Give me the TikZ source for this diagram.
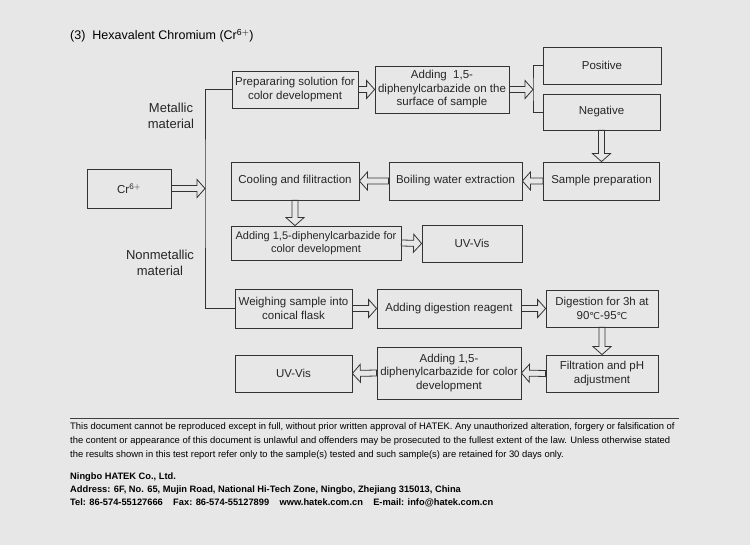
\documentclass[tikz,border=0pt]{standalone}
\usepackage{fontspec}
\setmainfont{Liberation Sans}
\newfontfamily\symfont{DejaVu Sans}
\usetikzlibrary{calc}
\definecolor{bgc}{HTML}{E7E7E7}
\definecolor{lnc}{HTML}{333333}
\newcommand\degC{{\symfont\fontsize{9.5}{11}\selectfont ℃}}
\newcommand\harrow[2]{%
  \coordinate (hH) at ($(#2)!8pt!(#1)$);
  \draw[harrowline] ($(#1)!3pt!90:(#2)$) -- ($(hH)!3pt!90:(#2)$) -- ($(hH)!9pt!90:(#2)$) -- (#2)
    -- ($(hH)!9pt!-90:(#2)$) -- ($(hH)!3pt!-90:(#2)$) -- ($(#1)!3pt!-90:(#2)$) -- cycle;}
\tikzset{
  box/.style={draw=lnc, line width=0.8pt, inner sep=0pt, align=center,
    font=\fontsize{11.5}{13.5}\selectfont, text=black!85},
  harrowline/.style={draw=lnc, line width=0.8pt, fill=bgc, line join=miter},
  conn/.style={draw=lnc, line width=0.8pt},
  lbl/.style={align=center, font=\fontsize{13}{16}\selectfont, text=black!85},
  foot/.style={anchor=west, inner sep=0pt, font=\fontsize{9.4}{10}\selectfont},
  footb/.style={anchor=west, inner sep=0pt, font=\fontsize{9.3}{10}\selectfont\bfseries}
}
\begin{document}
\begin{tikzpicture}[x=1pt,y=-1pt]
\fill[bgc] (0,0) rectangle (750,545);
\useasboundingbox (0,0) rectangle (750,545);

\node[anchor=west, inner sep=0pt, font=\fontsize{12.5}{14}\selectfont] (title) at (70,36) {(3)\ \ Hexavalent Chromium (Cr$^{\mathrm{6+}}$)};

\node[box, minimum width=84pt, minimum height=39pt] (cr) at (129,188.5) {Cr$^{\mathrm{6+}}$};
\node[box, minimum width=126pt, minimum height=37pt] (prep) at (295,89.5) {Prepararing solution for\\color development};
\node[box, minimum width=134pt, minimum height=47pt] (add1) at (442,89.5) {Adding\ \ 1,5-\\diphenylcarbazide on the\\surface of sample};
\node[box, minimum width=118pt, minimum height=37pt] (pos) at (602,65.5) {Positive};
\node[box, minimum width=117pt, minimum height=36pt] (neg) at (601.5,112) {Negative};
\node[box, minimum width=116pt, minimum height=38pt] (samp) at (601.5,181) {Sample preparation};
\node[box, minimum width=133pt, minimum height=38pt] (boil) at (455.5,181) {Boiling water extraction};
\node[box, minimum width=128pt, minimum height=38pt] (cool) at (295,181) {Cooling and filitraction};
\node[box, minimum width=170pt, minimum height=34pt, font=\fontsize{11}{13.5}\selectfont] (add2) at (316,243) {Adding 1,5-diphenylcarbazide for\\color development};
\node[box, minimum width=100pt, minimum height=37pt] (uv1) at (472,243.5) {UV-Vis};
\node[box, minimum width=117pt, minimum height=39pt] (weigh) at (293.5,308.5) {Weighing sample into\\conical flask};
\node[box, minimum width=144pt, minimum height=39pt] (dig) at (449,308.5) {Adding digestion reagent};
\node[box, minimum width=112pt, minimum height=37pt] (hdig) at (602,308.5) {Digestion for 3h at\\90\degC-95\degC};
\node[box, minimum width=112pt, minimum height=37pt] (filt) at (602,373.5) {Filtration and pH\\adjustment};
\node[box, minimum width=144pt, minimum height=52pt] (add3) at (449,373) {Adding 1,5-\\diphenylcarbazide for color\\development};
\node[box, minimum width=117pt, minimum height=37pt] (uv2) at (293.5,373.5) {UV-Vis};

\node[lbl] (met) at (171,116) {Metallic\\material};
\node[lbl] (nonmet) at (160,263) {Nonmetallic\\material};

\coordinate (trunk) at (205,188.5);
\coordinate (br) at (533,89.5);
\draw[conn] (prep.west) -| (trunk) |- (weigh.west);
\draw[conn] (pos.west) -| (br) |- (neg.west);

\coordinate (c2) at (cool.south |- add2.north);
\harrow{cr.east}{trunk}
\harrow{prep.east}{add1.west}
\harrow{add1.east}{br}
\harrow{neg.south}{samp.north}
\harrow{samp.west}{boil.east}
\harrow{boil.west}{cool.east}
\harrow{cool.south}{c2}
\harrow{add2.east}{uv1.west}
\harrow{weigh.east}{dig.west}
\harrow{dig.east}{hdig.west}
\harrow{hdig.south}{filt.north}
\harrow{filt.west}{add3.east}
\harrow{add3.west}{uv2.east}

\coordinate (rl) at (70,418);
\coordinate (rr) at (679,418);
\draw[draw=black!75, line width=0.9pt] (rl) -- (rr);
\node[foot] (f1) at (70,427) {This document cannot be reproduced except in full, without prior written approval of HATEK. Any unauthorized alteration, forgery or falsification of};
\node[foot] (f2) at (70,441) {the content or appearance of this document is unlawful and offenders may be prosecuted to the fullest extent of the law. Unless otherwise stated};
\node[foot] (f3) at (70,455) {the results shown in this test report refer only to the sample(s) tested and such sample(s) are retained for 30 days only.};
\node[footb] (c1) at (70,477) {Ningbo HATEK Co., Ltd.};
\node[footb] (c2t) at (70,490) {Address: 6F, No. 65, Mujin Road, National Hi-Tech Zone, Ningbo, Zhejiang 315013, China};
\node[footb] (c3) at (70,503) {Tel: 86-574-55127666\ \ \ \ Fax: 86-574-55127899\ \ \ \ www.hatek.com.cn\ \ \ \ E-mail: info@hatek.com.cn};
\end{tikzpicture}
\end{document}
